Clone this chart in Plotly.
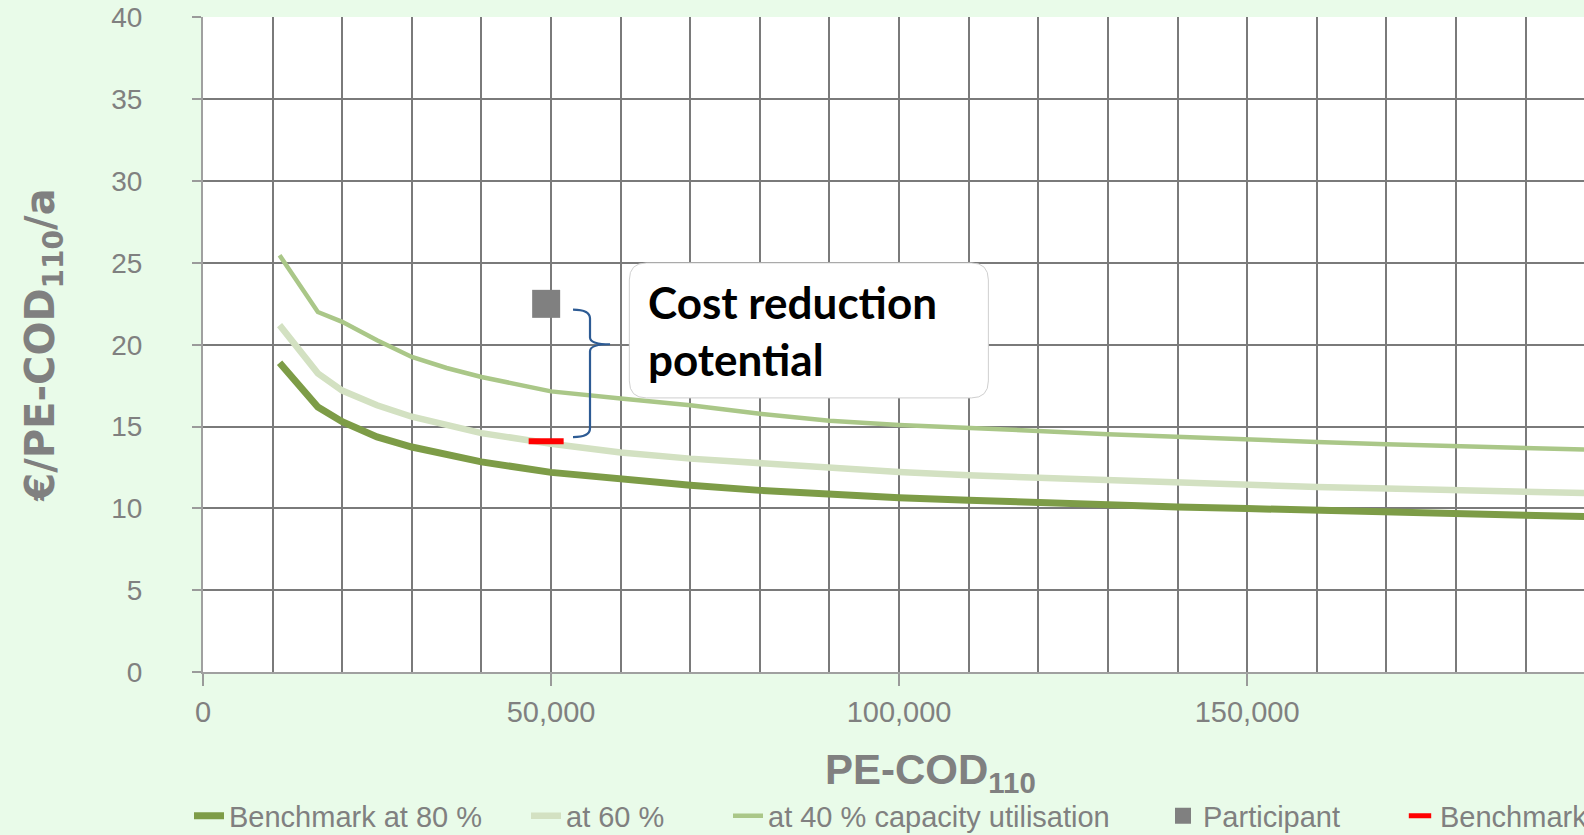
import plotly.graph_objects as go

# ---------------- data ----------------
pe_cod = [11000, 16500, 20000, 25000, 30000, 35000, 40000, 50000, 60000, 70000, 80000,
          90000, 100000, 110000, 120000, 130000, 140000, 150000, 160000, 170000,
          180000, 190000, 200000]
bench_80 = [18.9, 16.2, 15.3, 14.37, 13.75, 13.25, 12.84, 12.2, 11.76, 11.41, 11.1,
            10.86, 10.65, 10.5, 10.33, 10.19, 10.09, 9.99, 9.88, 9.78, 9.68, 9.58, 9.48]
bench_60 = [21.2, 18.25, 17.2, 16.3, 15.6, 15.06, 14.6, 13.95, 13.41, 13.04, 12.74,
            12.43, 12.22, 12.02, 11.86, 11.72, 11.58, 11.42, 11.31, 11.21, 11.1, 11.0, 10.92]
bench_40 = [25.47, 22.0, 21.4, 20.27, 19.25, 18.58, 18.03, 17.15, 16.71, 16.3, 15.78,
            15.35, 15.1, 14.94, 14.73, 14.53, 14.37, 14.16, 14.06, 13.92, 13.8, 13.7, 13.58]
participant_x = [49300]
participant_y = [22.5]
benchmark_y = [14.1]

series_names = ["Benchmark at 80 %", "at 60 %", "at 40 % capacity utilisation",
                "Participant", "Benchmark"]
callout_text = "Cost reduction<br>potential"
x_title = "PE-COD<sub>110</sub>"
y_title = "€/PE-COD<sub>110</sub>/a"

# ---------------- styling ----------------
GRAY = "#808080"
SANS = "Liberation Sans, Arial, sans-serif"
W, H = 1584, 835

fig = go.Figure()
fig.add_trace(go.Scatter(x=pe_cod, y=bench_80, mode="lines", name=series_names[0],
                         line=dict(color="#7D9C47", width=7), legend="legend2"))
fig.add_trace(go.Scatter(x=pe_cod, y=bench_60, mode="lines", name=series_names[1],
                         line=dict(color="#D3E1C2", width=6.5), legend="legend3"))
fig.add_trace(go.Scatter(x=pe_cod, y=bench_40, mode="lines", name=series_names[2],
                         line=dict(color="#AAC788", width=4.5), legend="legend4"))
fig.add_trace(go.Scatter(x=participant_x, y=participant_y, mode="markers", name=series_names[3],
                         marker=dict(symbol="square", size=28, color="#808080"),
                         legend="legend5"))
fig.add_trace(go.Scatter(x=participant_x, y=benchmark_y, mode="markers", name=series_names[4],
                         marker=dict(symbol="line-ew", size=25,
                                     line=dict(color="#FF0000", width=6)),
                         legend="legend6"))

def leg(text_x_px):
    return dict(orientation="h", xref="container", yref="container",
                x=(text_x_px - 40) / W, xanchor="left",
                y=1 - 816 / H, yanchor="middle",
                bgcolor="rgba(0,0,0,0)", borderwidth=0,
                font=dict(family=SANS, size=29, color=GRAY),
                tracegroupgap=0, itemwidth=30)

# callout box (rounded rectangle) and brace, in data units
bx0, bx1, by0, by1, rx, ry = 61250, 112830, 16.75, 25.0, 2440, 1.04
box_path = (f"M {bx0+rx},{by1} L {bx1-rx},{by1} Q {bx1},{by1} {bx1},{by1-ry} "
            f"L {bx1},{by0+ry} Q {bx1},{by0} {bx1-rx},{by0} L {bx0+rx},{by0} "
            f"Q {bx0},{by0} {bx0},{by0+ry} L {bx0},{by1-ry} Q {bx0},{by1} {bx0+rx},{by1} Z")
brace_path = ("M 53160,22.15 Q 55600,22.15 55600,21.6 L 55600,20.45 "
              "Q 55600,20.03 58480,20.03 Q 55600,20.03 55600,19.6 L 55600,14.9 "
              "Q 55600,14.36 53160,14.36")

fig.update_layout(
    width=W, height=H,
    margin=dict(l=203, r=0, t=17, b=163, autoexpand=False),
    paper_bgcolor="#E9FBE9", plot_bgcolor="white",
    showlegend=True,
    legend2=leg(229), legend3=leg(566), legend4=leg(768), legend5=leg(1203),
    legend6=leg(1440),
    xaxis=dict(range=[0, 198400], tick0=0, dtick=50000, tickformat=",d",
               ticks="outside", ticklen=12, tickwidth=2, tickcolor="#9a9a9a",
               showline=True, linecolor="#a0a0a0", linewidth=2, zeroline=False,
               showgrid=True, gridcolor="#7a7a7a", gridwidth=2,
               minor=dict(dtick=10000, showgrid=True, gridcolor="#7a7a7a", gridwidth=2,
                          ticks=""),
               tickfont=dict(family=SANS, size=29, color=GRAY), ticklabelstandoff=1),
    yaxis=dict(range=[0, 40.03], tick0=0, dtick=5,
               ticks="outside", ticklen=9, tickwidth=2, tickcolor="#9a9a9a",
               showline=True, linecolor="#a0a0a0", linewidth=2, zeroline=False,
               showgrid=True, gridcolor="#7a7a7a", gridwidth=2,
               tickfont=dict(family=SANS, size=28, color=GRAY), ticklabelstandoff=44,
               title=dict(text=f"<b>{y_title}</b>", standoff=44,
                          font=dict(family="DejaVu Sans", size=40, color=GRAY))),
    shapes=[
        dict(type="path", path=box_path, xref="x", yref="y", layer="above",
             fillcolor="white", line=dict(color="#cfcfcf", width=1)),
        dict(type="path", path=brace_path, xref="x", yref="y", layer="above",
             line=dict(color="#2D5B94", width=2.2)),
    ],
    annotations=[
        dict(x=63700, y=20.9, xref="x", yref="y", text=f"<b>{callout_text}</b>",
             xanchor="left", yanchor="middle", align="left", showarrow=False,
             font=dict(family="Lato", size=44, color="black")),
        dict(x=(930 - 203) / 1381, y=(671.7 - 772) / 654.4, xref="paper", yref="paper",
             text=f"<b>{x_title}</b>", xanchor="center", yanchor="middle",
             showarrow=False, font=dict(family=SANS, size=42, color=GRAY)),
    ],
)

fig.write_html("out.html", config={"displayModeBar": False},
               post_script="document.body.style.margin='0px';")
